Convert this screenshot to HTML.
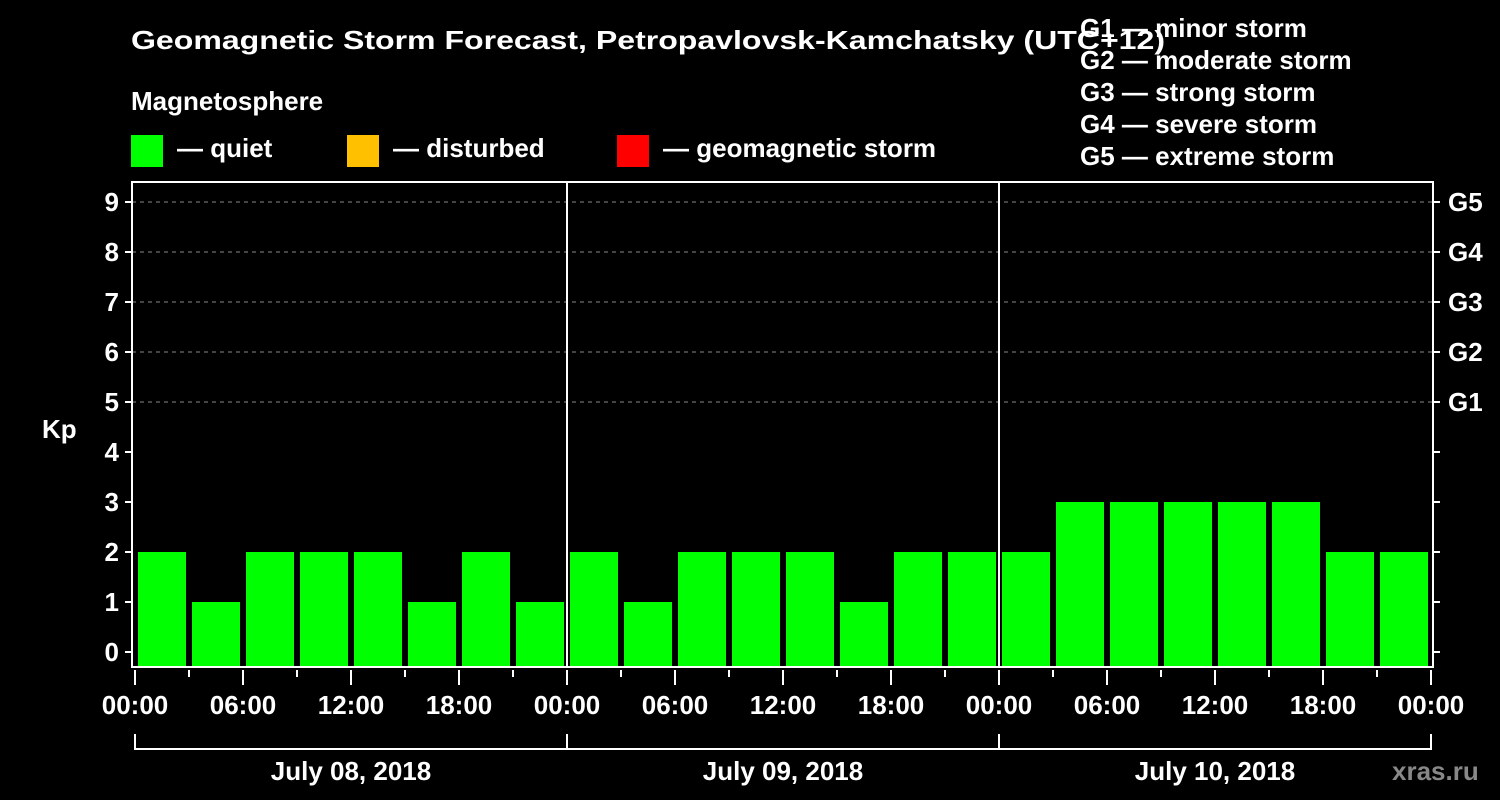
<!DOCTYPE html>
<html><head><meta charset="utf-8"><style>
html,body{margin:0;padding:0;background:#000;}
svg{display:block;font-family:"Liberation Sans",Arial,sans-serif;font-weight:bold;}
</style></head><body>
<svg id="chart" width="1500" height="800" viewBox="0 0 1500 800">
<text x="131" y="49" fill="#fff" font-size="26" textLength="1034" lengthAdjust="spacingAndGlyphs">Geomagnetic Storm Forecast, Petropavlovsk-Kamchatsky (UTC+12)</text>
<text x="131" y="110" fill="#fff" font-size="26">Magnetosphere</text>
<g><rect x="131" y="135" width="32" height="32" fill="#00ff00"/><text x="177" y="157" fill="#fff" font-size="26">— quiet</text></g>
<g><rect x="347" y="135" width="32" height="32" fill="#ffc000"/><text x="393" y="157" fill="#fff" font-size="26">— disturbed</text></g>
<g><rect x="617" y="135" width="32" height="32" fill="#ff0000"/><text x="663" y="157" fill="#fff" font-size="26">— geomagnetic storm</text></g>
<g fill="#fff" font-size="26">
<text x="1080" y="37">G1 — minor storm</text>
<text x="1080" y="69">G2 — moderate storm</text>
<text x="1080" y="101">G3 — strong storm</text>
<text x="1080" y="133">G4 — severe storm</text>
<text x="1080" y="165">G5 — extreme storm</text>
</g>
<text x="42" y="438" fill="#fff" font-size="26">Kp</text>
<g id="grid"></g><g id="bars"></g><g id="axes"></g>
<text x="1392" y="780" fill="#888" font-size="26">xras.ru</text>
</svg>
<script>
const days = ["July 08, 2018","July 09, 2018","July 10, 2018"];
const kpValues = [2,1,2,2,2,1,2,1, 2,1,2,2,2,1,2,2, 2,3,3,3,3,3,2,2];
const yTicks = [0,1,2,3,4,5,6,7,8,9];
const gLabels = ["G1","G2","G3","G4","G5"];
const hourLabels = ["00:00","06:00","12:00","18:00"];

const NS="http://www.w3.org/2000/svg";
const x0=135, hourW=18, pLeft=132, pRight=1433, pTop=182, pBottom=667;
const xs=h=>x0+h*hourW;
const ys=v=>652-50*v;
function mk(tag,attrs,parent){const e=document.createElementNS(NS,tag);for(const k in attrs)e.setAttribute(k,attrs[k]);parent.appendChild(e);return e;}
const gridG=document.getElementById('grid'),barsG=document.getElementById('bars'),axesG=document.getElementById('axes');

for(let i=0;i<gLabels.length;i++){
  const v=5+i;
  const l=mk('line',{x1:pLeft,x2:pRight,y1:ys(v),y2:ys(v),stroke:'#888','stroke-dasharray':'4,4','stroke-width':1},gridG);
  
  
  const t=mk('text',{x:1448,y:ys(v)+9,fill:'#fff','font-size':26},axesG);
  t.textContent=gLabels[i];
  
  
}
kpValues.forEach((v,i)=>{
  const r=mk('rect',{x:xs(i*3)+3,y:ys(v),width:48,height:pBottom-ys(v),fill:'#00ff00'},barsG);
  
  
});
const fr=mk('rect',{x:pLeft,y:pTop,width:pRight-pLeft,height:pBottom-pTop,fill:'none',stroke:'#fff','stroke-width':2},axesG);


for(let d=1;d<days.length;d++){
  const l=mk('line',{x1:xs(d*24),x2:xs(d*24),y1:pTop,y2:pBottom,stroke:'#fff','stroke-width':2},axesG);
  
  
}
yTicks.forEach(v=>{
  mk('line',{x1:pLeft-7,x2:pLeft,y1:ys(v),y2:ys(v),stroke:'#fff','stroke-width':2},axesG);
  mk('line',{x1:pRight,x2:pRight+7,y1:ys(v),y2:ys(v),stroke:'#fff','stroke-width':2},axesG);
  const t=mk('text',{x:pLeft-13,y:ys(v)+9,fill:'#fff','font-size':26,'text-anchor':'end'},axesG);
  t.textContent=v;
  
  
});
for(let h=0;h<=72;h+=3){
  const major=h%6===0;
  mk('line',{x1:xs(h),x2:xs(h),y1:pBottom+3,y2:major?pBottom+18:pBottom+10,stroke:'#fff','stroke-width':2},axesG);
  if(major){
    const t=mk('text',{x:xs(h),y:714,fill:'#fff','font-size':26,'text-anchor':'middle'},axesG);
    t.textContent=hourLabels[(h/6)%4];
    
    
  }
}
days.forEach((d,i)=>{
  const a=xs(i*24),b=xs((i+1)*24);
  mk('polyline',{points:`${a},734 ${a},749 ${b},749`+(i==days.length-1?` ${b},734`:''),fill:'none',stroke:'#fff','stroke-width':2},axesG);
  const t=mk('text',{x:(a+b)/2,y:780,fill:'#fff','font-size':26,'text-anchor':'middle'},axesG);
  t.textContent=d;
  
  
});
</script>
</body></html>
